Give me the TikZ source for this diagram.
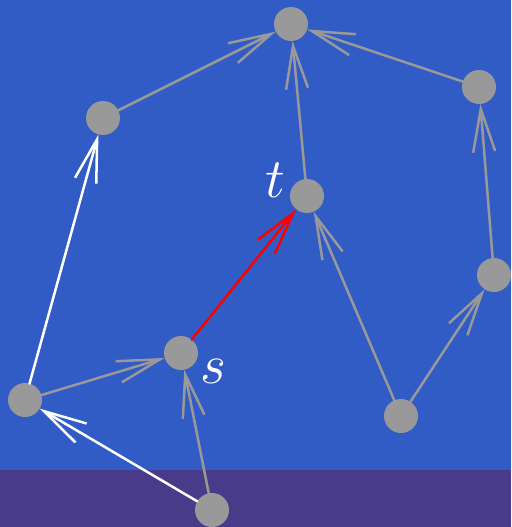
\documentclass[tikz,border=0pt]{standalone}
\usepackage{graphicx}
\usepackage{xcolor}
\usetikzlibrary{arrows.meta}
\definecolor{bgblue}{RGB}{50,92,197}
\definecolor{bandpurple}{RGB}{72,60,138}
\definecolor{nodegray}{RGB}{153,153,153}
\newcommand{\biglbl}[1]{\scalebox{2.25}{\Huge$#1$}}

\begin{document}
\begin{tikzpicture}[
  x=1pt, y=-1pt,
  vtx/.style={circle, fill=nodegray, minimum size=34pt, inner sep=0pt, outer sep=0pt},
  lbl/.style={text=white, inner sep=0pt},
  arr/.style={-{Straight Barb[length=43pt, width=22pt, line width=2.5pt]}, line width=2.5pt, line cap=round},
  gedge/.style={arr, draw=nodegray},
  wedge/.style={arr, draw=white},
  redge/.style={arr, draw=red}
]
  \fill[bgblue] (0,0) rectangle (511,470);
  \fill[bandpurple] (0,470) rectangle (511,527);
  \useasboundingbox (0,0) rectangle (511,527);

  \node[vtx] (top) at (291,24) {};
  \node[vtx] (lt) at (103,118) {};
  \node[vtx] (rt) at (479,87) {};
  \node[vtx] (t) at (307,196) {};
  \node[vtx] (rm) at (494,275) {};
  \node[vtx] (s) at (181,353) {};
  \node[vtx] (lb) at (25,400) {};
  \node[vtx] (rb) at (401,416) {};
  \node[vtx] (bot) at (212,510) {};

  \node[lbl] at (275,180) {\biglbl{t}};
  \node[lbl] at (213,371) {\biglbl{s}};

  \draw[gedge] (lt) -- (top);
  \draw[gedge] (rt) -- (top);
  \draw[gedge] (t) -- (top);
  \draw[gedge] (rm) -- (rt);
  \draw[gedge] (rb) -- (t);
  \draw[gedge] (rb) -- (rm);
  \draw[gedge] (lb) -- (s);
  \draw[gedge] (bot) -- (s);
  \draw[wedge] (lb) -- (lt);
  \draw[wedge] (bot) -- (lb);
  \draw[redge] (s) -- (t);
\end{tikzpicture}
\end{document}
